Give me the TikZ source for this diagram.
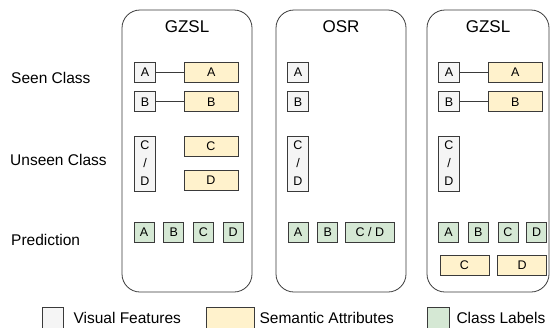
\documentclass[tikz,border=0pt]{standalone}
\usepackage{fontspec}
\setmainfont{Liberation Sans}
\usetikzlibrary{positioning}
\definecolor{cVis}{HTML}{F5F5F5}
\definecolor{cSem}{HTML}{FFF2CC}
\definecolor{cLab}{HTML}{D5E8D4}
\definecolor{cLine}{HTML}{3A3A3A}
\tikzset{
  panel/.style={draw=cLine, line width=0.8pt, rounded corners=18pt, inner sep=0pt,
                minimum width=#1, minimum height=282pt},
  cbox/.style={draw=cLine, line width=0.7pt, inner sep=0pt, align=center,
               minimum height=20pt, font=\fontsize{12.5}{18}\selectfont},
  vis/.style={cbox, fill=cVis, minimum width=21pt},
  sem/.style={cbox, fill=cSem, minimum width=#1},
  sem/.default=54pt,
  lab/.style={cbox, fill=cLab, minimum width=#1},
  lab/.default=20pt,
  ttl/.style={inner sep=0pt, font=\fontsize{17}{18}\selectfont},
  rowlbl/.style={anchor=west, inner sep=0pt, font=\fontsize{15.5}{16}\selectfont},
  link/.style={draw=cLine, line width=0.7pt},
}

\begin{document}
\begin{tikzpicture}[x=1pt, y=-1pt, node distance=9pt]
\useasboundingbox (0,0) rectangle (551,327);

% row labels
\node[rowlbl] (lseen) at (11,78) {Seen Class};
\node[rowlbl] (lunseen) at (10,160) {Unseen Class};
\node[rowlbl] (lpred) at (11,240) {Prediction};

% panels
\node[panel=130pt] (gz1) at (187,151) {};
\node[panel=130pt] (osr) at (341,151) {};
\node[panel=122pt] (gz2) at (488,151) {};
\node[ttl] (tgz1) at ([yshift=-17pt]gz1.north) {GZSL};
\node[ttl] (tosr) at ([yshift=-17pt]osr.north) {OSR};
\node[ttl] (tgz2) at ([yshift=-17pt]gz2.north) {GZSL};

% GZSL (left)
\node[vis] (va1) at (145,72) {A};
\node[sem, right=28pt of va1] (sa1) {A};
\node[vis, below=of va1] (vb1) {B};
\node[sem, right=28pt of vb1] (sb1) {B};
\draw[link] (va1) -- (sa1);
\draw[link] (vb1) -- (sb1);
\node[vis, minimum height=55pt] (vcd1) at (145,163.5) {C\\/\\D};
\node[sem] (sc1) at (211,146.5) {C};
\node[sem, below=13pt of sc1] (sd1) {D};
\node[lab] (pa1) at (144,232.5) {A};
\node[lab, right=of pa1] (pb1) {B};
\node[lab, right=of pb1] (pc1) {C};
\node[lab, right=of pc1] (pd1) {D};

% OSR
\node[vis] (va2) at (298,72) {A};
\node[vis, below=of va2] (vb2) {B};
\node[vis, minimum height=55pt] (vcd2) at (298,163.5) {C\\/\\D};
\node[lab] (pa2) at (298,232.5) {A};
\node[lab, right=of pa2] (pb2) {B};
\node[lab=49pt, right=7pt of pb2] (pcd2) {C / D};

% GZSL (right)
\node[vis] (va3) at (449,72) {A};
\node[sem, right=28pt of va3] (sa3) {A};
\node[vis, below=of va3] (vb3) {B};
\node[sem, right=28pt of vb3] (sb3) {B};
\draw[link] (va3) -- (sa3);
\draw[link] (vb3) -- (sb3);
\node[vis, minimum height=55pt] (vcd3) at (449,163.5) {C\\/\\D};
\node[lab] (pa3) at (448.5,232.5) {A};
\node[lab, right=of pa3] (pb3) {B};
\node[lab, right=of pb3] (pc3) {C};
\node[lab, right=8pt of pc3] (pd3) {D};
\node[sem=49pt] (pse3) at (464.5,265.5) {C};
\node[sem=49pt, right=8pt of pse3] (psd3) {D};

% legend
\node[vis, minimum height=21pt] (lgv) at (52.5,317.5) {};
\node[rowlbl, right=10pt of lgv] (lgvt) {Visual Features};
\node[sem=48pt, minimum height=21pt] (lgs) at (230,317.5) {};
\node[rowlbl, right=5pt of lgs] (lgst) {Semantic Attributes};
\node[lab=22pt, minimum height=21pt] (lgl) at (438,317.5) {};
\node[rowlbl, right=7pt of lgl] (lglt) {Class Labels};
\end{tikzpicture}
\end{document}
